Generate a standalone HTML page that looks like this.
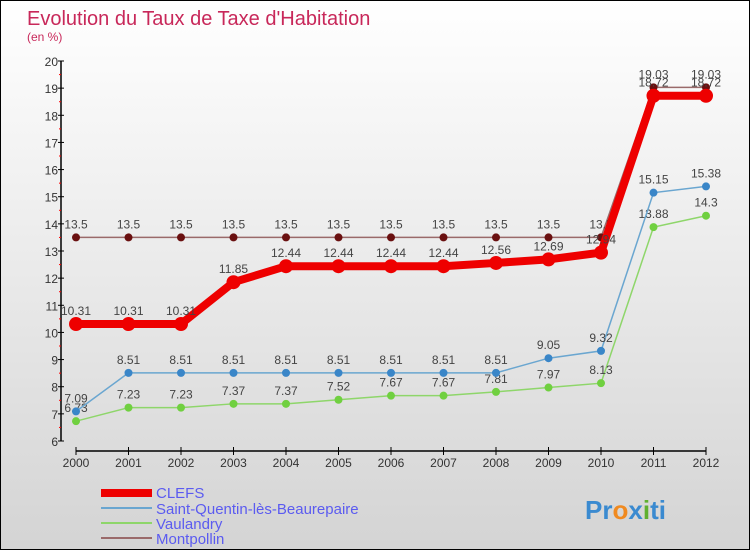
<!DOCTYPE html>
<html><head><meta charset="utf-8"><style>
body{margin:0}
#c{width:748px;height:548px;border:1px solid #000;background:linear-gradient(#fff,#d4d4d4);position:relative;font-family:"Liberation Sans",sans-serif;overflow:hidden}
</style></head><body>
<div id="c">
<svg id="s" width="748" height="548" xmlns="http://www.w3.org/2000/svg">
<text x="26" y="24" font-size="20" fill="#c8285a">Evolution du Taux de Taxe d'Habitation</text>
<text x="26" y="40" font-size="12" fill="#c8285a">(en %)</text>
<g id="axes"></g><g id="marks"></g>
<g>
<rect x="100" y="488" width="51" height="8" fill="#e00"/>
<line x1="100" x2="151" y1="507" y2="507" stroke="#6aa6d0" stroke-width="2"/>
<line x1="100" x2="151" y1="522" y2="522" stroke="#8ed66a" stroke-width="2"/>
<line x1="100" x2="151" y1="537" y2="537" stroke="#9a6a6a" stroke-width="2"/>
<text x="155" y="497" font-size="15" fill="#5b5bf0">CLEFS</text>
<text x="155" y="513" font-size="15" fill="#5b5bf0">Saint-Quentin-lès-Beaurepaire</text>
<text x="155" y="528" font-size="15" fill="#5b5bf0">Vaulandry</text>
<text x="155" y="543" font-size="15" fill="#5b5bf0">Montpollin</text>
</g>
<text x="584" y="518" font-size="26" font-weight="bold" fill="#3a8ad0">Pr<tspan fill="#f08a20">o</tspan>x<tspan fill="#60b030">i</tspan>ti</text>
</svg></div>
<script>
const years=["2000","2001","2002","2003","2004","2005","2006","2007","2008","2009","2010","2011","2012"];
const yTicks=[6,7,8,9,10,11,12,13,14,15,16,17,18,19,20];
const clefs=[10.31,10.31,10.31,11.85,12.44,12.44,12.44,12.44,12.56,12.69,12.94,18.72,18.72];
const saintQuentin=[7.09,8.51,8.51,8.51,8.51,8.51,8.51,8.51,8.51,9.05,9.32,15.15,15.38];
const vaulandry=[6.73,7.23,7.23,7.37,7.37,7.52,7.67,7.67,7.81,7.97,8.13,13.88,14.3];
const montpollin=[13.5,13.5,13.5,13.5,13.5,13.5,13.5,13.5,13.5,13.5,13.5,19.03,19.03];
const NS="http://www.w3.org/2000/svg";
const X=i=>75+i*52.5, Y=v=>440-(v-6)*(380/14);
function mk(t,a,p){const e=document.createElementNS(NS,t);for(const k in a)e.setAttribute(k,a[k]);p.appendChild(e);return e;}
const ax=document.getElementById('axes'),mg=document.getElementById('marks');
let l=mk('line',{x1:60,x2:60,y1:60,y2:440,stroke:'#000','stroke-width':1.5},ax);


l=mk('line',{x1:75,x2:705,y1:450,y2:450,stroke:'#000','stroke-width':1.5},ax);


yTicks.forEach(v=>{mk('line',{x1:57,x2:63,y1:Y(v),y2:Y(v),stroke:'#000'},ax);
if(v<20)mk('line',{x1:58,x2:60,y1:Y(v+0.5),y2:Y(v+0.5),stroke:'#f00'},ax);
const t=mk('text',{x:57,y:Y(v)+5,'font-size':12,fill:'#333','text-anchor':'end'},ax);t.textContent=v;

});
years.forEach((y,i)=>{mk('line',{x1:X(i),x2:X(i),y1:446,y2:454,stroke:'#000'},ax);
const t=mk('text',{x:X(i),y:466,'font-size':12,fill:'#333','text-anchor':'middle'},ax);t.textContent=y;

});
function series(d,col,dot,w,r,name){
const p=mk('polyline',{points:d.map((v,i)=>X(i)+','+Y(v)).join(' '),fill:'none',stroke:col,'stroke-width':w},mg);


d.forEach((v,i)=>{const c=mk('circle',{cx:X(i),cy:Y(v),r:r,fill:dot},mg);


const t=mk('text',{x:X(i),y:Y(v)-9,'font-size':12,fill:'#444','text-anchor':'middle'},mg);t.textContent=v;

});}
series(montpollin,'#9a6a6a','#6a1010',1.5,4,'montpollin');
series(vaulandry,'#8ed66a','#70d040',1.5,4,'vaulandry');
series(saintQuentin,'#6aa6d0','#3a86c8',1.5,4,'saint-quentin');
series(clefs,'#e00','#e00',8,7,'clefs');
</script></body></html>
